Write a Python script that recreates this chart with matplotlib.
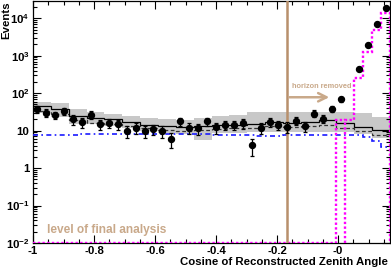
import numpy as np
import matplotlib
matplotlib.use("Agg")
import matplotlib.pyplot as plt
from matplotlib.ticker import FixedLocator, LogLocator, NullFormatter, FixedFormatter, MultipleLocator

plt.rcParams['font.family'] = ['Liberation Sans', 'DejaVu Sans']
plt.rcParams['mathtext.fontset'] = 'custom'
plt.rcParams['mathtext.rm'] = 'Liberation Sans:bold'
plt.rcParams['mathtext.bf'] = 'Liberation Sans:bold'
plt.rcParams['mathtext.it'] = 'Liberation Sans:bold'

# ---- data ----
x_range = (-1.0, 0.17)
n_fine = 40      # data / blue / magenta binning
n_mc = 20        # MC histogram binning

data_vals = [37, 30, 26, 34, 20, 17, 27, 15, 16, 15,
             10, 12, 10, 11, 10, 6.0, 17.6, 12, 11.5, 17.6,
             12.2, 14.3, 14.3, 15.8, 4.1, 12, 16.9, 14.6, 12.6, 18.3,
             13.4, 28.7, 21.1, 39, 69, np.nan, 437, 1990, 7220, 19300]
data_errs = [8, 7, 6, 7, 5.5, 5, 6, 4.5, 4.5, 4.5,
             3.5, 4, 3.5, 3.5, 3.5, 2.5, 4.5, 4, 4, 4.5,
             4, 4, 4, 4.5, 2, 4, 4.5, 4, 4, 4.5,
             4, 6, 5, 7, 9, 0, 21, 45, 85, 140]

mc_total = [45, 38, 25, 22, 20.3, 17.2, 14.6, 13.4, 12.2, 13.2,
            13.8, 14.6, 15.2, 17.2, 16.4, 17.2, 19, 15.6, 12.6, 10.2]
mc_dashed = [33, 28, 19, 16, 15.5, 13.5, 11.5, 10.5, 10, 10.5,
             11, 11.5, 12, 13, 12.5, 13, 14.5, 11.5, 9.5, 7.8]
band_hi = [58, 55, 37, 32, 28, 25, 22, 21, 19, 22,
           25, 27, 31, 32, 32, 32, 32, 32, 30, 23]
band_lo = [30, 23, 15, 15, 13, 11.5, 10, 8.5, 8, 5.5,
           8.5, 8.5, 9, 9, 9, 9, 9, 9, 8, 6.5]

blue_vals = [7.5, 7.5, 7.5, 7.5, 7.5, 8.2, 8.2, 8.2, 8.2, 8.2,
             8.2, 8.2, 8.2, 8.2, 8.2, 8.0, 8.0, 8.0, 8.0, 8.0,
             7.6, 7.6, 7.6, 7.6, 7.6, 7.2, 7.2, 7.2, 7.8, 7.8,
             7.8, 7.8, 7.8, 7.8, 7.8, 7.5, 7.5, 6.8, 5.2, 3.6]
mag_vals = [0.01] * 34 + [19, 19, 250, 1260, 5000, 13900]

horizon_cut = -0.169
xticks = [-1.0, -0.8, -0.6, -0.4, -0.2, 0.0]
xtick_labels = ['-1', '-0.8', '-0.6', '-0.4', '-0.2', '-0']
yticks = [1e-2, 1e-1, 1, 10, 1e2, 1e3, 1e4]
ytick_labels = [r'$\mathbf{10^{-2}}$', r'$\mathbf{10^{-1}}$', '1', '10',
                r'$\mathbf{10^{2}}$', r'$\mathbf{10^{3}}$', r'$\mathbf{10^{4}}$']

# ---- figure ----
fig = plt.figure(figsize=(3.91, 2.69), dpi=100)
ax = fig.add_axes([33/391, 26/269, 357/391, 242/269])
ax.set_yscale('log')
ax.set_xlim(*x_range)
ax.set_ylim(1e-2, 2.9e4)

fine_edges = np.linspace(x_range[0], x_range[1], n_fine + 1)
mc_edges = np.linspace(x_range[0], x_range[1], n_mc + 1)
fine_centers = 0.5 * (fine_edges[:-1] + fine_edges[1:])

ax.stairs(band_hi, mc_edges, baseline=band_lo, fill=True, color='#c8c8c8', lw=0, zorder=1)
ax.stairs(mc_dashed, mc_edges, baseline=None, color='#333333', lw=0.9,
          linestyle=(0, (3, 2)), zorder=2)
ax.stairs(mc_total, mc_edges, baseline=None, color='black', lw=0.9, zorder=3)
ax.stairs(blue_vals, fine_edges, baseline=None, color='#1a1aff', lw=1.2,
          linestyle=(0, (3, 2, 1, 2)), zorder=3)

mag = np.array(mag_vals, dtype=float)
ax.stairs(mag[:35], fine_edges[:36], baseline=None, color='#ff00ff', lw=1.7,
          linestyle=(0, (1, 1)), zorder=4)
ax.stairs(mag[35:], fine_edges[35:], baseline=1e-2, color='#ff00ff', lw=1.7,
          linestyle=(0, (1, 1)), zorder=4)

brown = '#b8906c'
tan = '#c9a98a'
ax.axvline(horizon_cut, color=brown, lw=1.8, zorder=5)
ax.annotate('', xy=(-0.02, 78), xytext=(horizon_cut, 78),
            arrowprops=dict(arrowstyle='->,head_length=0.6,head_width=0.3',
                            color=tan, lw=1.8), zorder=6)
ax.text(-0.150, 140, 'horizon removed', color=tan, fontsize=5.3,
        fontweight='bold', ha='left', va='baseline', zorder=6)
ax.text(-0.953, 0.0185, 'level of final analysis', color=tan, fontsize=8.6,
        fontweight='bold', ha='left', va='baseline', zorder=6)

ax.errorbar(fine_centers, data_vals, yerr=data_errs, fmt='o', color='black',
            markersize=4.3, elinewidth=0.9, capsize=1.2, capthick=0.9, zorder=7)

# ticks
ax.xaxis.set_major_locator(FixedLocator(xticks))
ax.xaxis.set_major_formatter(FixedFormatter(xtick_labels))
ax.xaxis.set_minor_locator(MultipleLocator(0.05))
ax.yaxis.set_major_locator(FixedLocator(yticks))
ax.yaxis.set_major_formatter(FixedFormatter(ytick_labels))
ax.yaxis.set_minor_locator(LogLocator(base=10, subs=np.arange(2, 10), numticks=20))
ax.yaxis.set_minor_formatter(NullFormatter())
ax.tick_params(which='both', direction='in', top=True, right=True, width=0.8)
ax.tick_params(which='major', length=5.5, labelsize=8.2, pad=2.5)
ax.tick_params(which='minor', length=3)
for lab in ax.get_xticklabels() + ax.get_yticklabels():
    lab.set_fontweight('bold')
for sp in ax.spines.values():
    sp.set_linewidth(0.9)

fig.text(388/391, 1 - 262/269, 'Cosine of Reconstructed Zenith Angle',
         ha='right', va='center', fontsize=8.2, fontweight='bold')
fig.text(6/391, 1 - 1/269, 'Events', rotation=90, ha='center', va='top',
         fontsize=8.2, fontweight='bold')

fig.savefig('out.png', dpi=100)
